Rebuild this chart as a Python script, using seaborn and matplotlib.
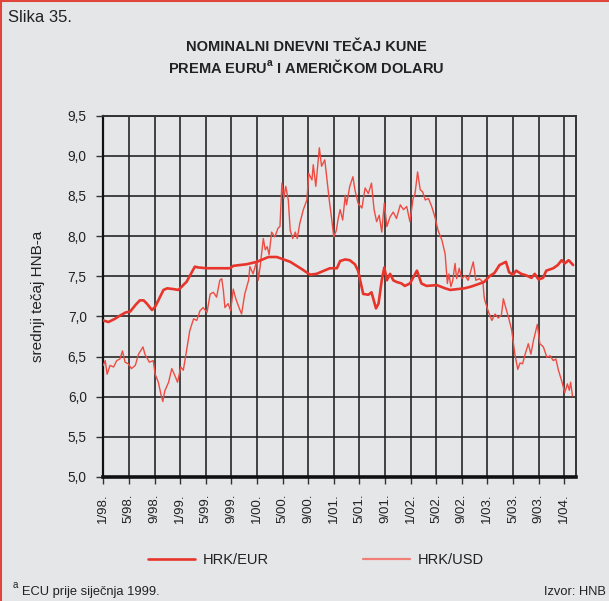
import matplotlib
matplotlib.use("Agg")
import matplotlib.pyplot as plt
from matplotlib.lines import Line2D
import seaborn as sns

# months since 1/98 and daily-rate readings
eur_month = [0, 0.8, 1.8, 2.6, 3.5, 4.2, 5.0, 5.7, 6.3, 6.8, 7.6, 8.1, 8.6, 9.4, 10.0,
             11.0, 11.7, 12.0, 12.6, 13.0, 14.3, 14.8, 16.2, 18.2, 19.8, 20.3, 22.4,
             24.0, 25.8, 27.1, 29.2, 31.0, 32.3, 33.3, 35.4, 36.5, 37.0, 37.8, 38.5,
             39.3, 39.8, 40.6, 41.4, 41.9, 42.6, 43.0, 43.5, 43.9, 44.3, 44.8, 45.3,
             45.8, 46.6, 47.1, 47.9, 49.0, 49.7, 50.5, 52.1, 53.4, 54.2, 55.3, 56.4,
             57.4, 58.5, 59.5, 60.3, 61.1, 61.9, 62.9, 63.4, 64.0, 64.5, 65.3, 66.1,
             66.9, 67.4, 68.0, 68.7, 69.2, 70.3, 71.0, 71.6, 72.1, 72.7, 73.4]
eur_rate = [6.95, 6.93, 6.97, 7.01, 7.05, 7.06, 7.14, 7.20, 7.20, 7.16, 7.08, 7.12, 7.20,
            7.33, 7.35, 7.34, 7.33, 7.35, 7.40, 7.43, 7.62, 7.61, 7.60, 7.60, 7.60, 7.63,
            7.65, 7.68, 7.74, 7.74, 7.68, 7.59, 7.52, 7.53, 7.60, 7.60, 7.69, 7.71, 7.70,
            7.65, 7.57, 7.28, 7.27, 7.30, 7.10, 7.16, 7.45, 7.61, 7.45, 7.53, 7.45, 7.43,
            7.41, 7.38, 7.41, 7.57, 7.41, 7.38, 7.39, 7.35, 7.33, 7.34, 7.35, 7.37, 7.40,
            7.43, 7.50, 7.54, 7.64, 7.68, 7.55, 7.52, 7.57, 7.53, 7.51, 7.48, 7.53, 7.46,
            7.48, 7.57, 7.60, 7.64, 7.70, 7.66, 7.70, 7.64]

usd_month = [0, 0.3, 0.6, 1.05, 1.6, 2.1, 2.6, 3.0, 3.4, 3.9, 4.4, 5.0, 5.5, 6.2, 6.5,
             7.2, 7.8, 8.1, 8.6, 9.0, 9.3, 9.6, 10.2, 10.7, 11.2, 11.6, 12.1, 12.5, 13.0,
             13.5, 14.1, 14.6, 15.1, 15.6, 16.2, 16.7, 17.2, 17.7, 18.2, 18.5, 18.75,
             19.0, 19.5, 19.9, 20.3, 20.7, 21.25, 21.6, 22.1, 22.7, 22.9, 23.4, 24.0,
             24.2, 24.5, 25.0, 25.3, 25.6, 25.9, 26.3, 26.8, 27.3, 27.6, 27.9, 28.2,
             28.5, 28.9, 29.2, 29.6, 30.0, 30.3, 30.7, 31.25, 31.8, 32.1, 32.6, 32.8,
             33.2, 33.75, 34.1, 34.6, 35.0, 35.3, 35.7, 36.0, 36.4, 36.7, 37.0, 37.4,
             37.8, 38.0, 38.5, 39.0, 39.3, 39.8, 40.4, 40.9, 41.4, 41.9, 42.3, 42.7,
             43.1, 43.5, 43.9, 44.3, 44.8, 45.3, 45.8, 46.4, 46.9, 47.4, 47.9, 48.4,
             48.7, 49.1, 49.5, 49.9, 50.3, 50.8, 51.3, 51.8, 52.3, 52.9, 53.4, 53.75,
             54.0, 54.3, 54.6, 54.95, 55.2, 55.6, 56.0, 56.5, 57.0, 57.6, 57.8, 58.2,
             58.75, 59.3, 59.5, 59.6, 60.2, 60.7, 61.2, 61.7, 62.2, 62.5, 62.9, 63.3,
             63.8, 64.3, 64.75, 65.1, 65.5, 65.9, 66.4, 66.8, 67.2, 67.8, 68.2, 68.75,
             69.3, 69.8, 70.3, 70.7, 71.1, 71.6, 72.1, 72.5, 72.8, 73.0, 73.3]
usd_rate = [6.39, 6.45, 6.28, 6.39, 6.37, 6.45, 6.47, 6.57, 6.43, 6.41, 6.35, 6.39, 6.53,
            6.62, 6.53, 6.43, 6.45, 6.28, 6.18, 6.03, 5.94, 6.07, 6.18, 6.35, 6.26, 6.18,
            6.37, 6.33, 6.57, 6.82, 6.97, 6.95, 7.07, 7.11, 7.05, 7.28, 7.30, 7.24, 7.45,
            7.47, 7.33, 7.11, 7.16, 7.07, 7.34, 7.22, 7.10, 7.03, 7.28, 7.45, 7.62, 7.53,
            7.70, 7.45, 7.62, 7.97, 7.83, 7.87, 7.77, 8.05, 7.99, 8.10, 8.12, 8.66, 8.47,
            8.62, 8.45, 8.07, 7.97, 8.05, 7.97, 8.16, 8.33, 8.45, 8.78, 8.70, 8.89, 8.62,
            9.10, 8.87, 8.95, 8.66, 8.45, 8.20, 7.99, 8.07, 8.22, 8.33, 8.20, 8.51, 8.39,
            8.62, 8.74, 8.58, 8.41, 8.35, 8.60, 8.53, 8.66, 8.33, 8.18, 8.26, 8.05, 8.41,
            8.12, 8.24, 8.30, 8.22, 8.39, 8.33, 8.37, 8.18, 8.47, 8.53, 8.80, 8.58, 8.55,
            8.45, 8.47, 8.37, 8.24, 8.07, 7.95, 7.78, 7.41, 7.53, 7.37, 7.45, 7.66, 7.47,
            7.60, 7.47, 7.51, 7.45, 7.62, 7.68, 7.45, 7.47, 7.43, 7.24, 7.20, 7.05, 6.95,
            7.03, 6.98, 7.02, 7.22, 7.10, 6.99, 6.83, 6.53, 6.34, 6.42, 6.41, 6.53, 6.66,
            6.53, 6.70, 6.90, 6.66, 6.62, 6.49, 6.51, 6.45, 6.47, 6.33, 6.20, 6.05, 6.16,
            6.08, 6.18, 6.01]

x_ticks = list(range(0, 73, 4))
x_labels = ["1/98.", "5/98.", "9/98.", "1/99.", "5/99.", "9/99.", "1/00.", "5/00.",
            "9/00.", "1/01.", "5/01.", "9/01.", "1/02.", "5/02.", "9/02.", "1/03.",
            "5/03.", "9/03.", "1/04."]
y_ticks = [5.0, 5.5, 6.0, 6.5, 7.0, 7.5, 8.0, 8.5, 9.0, 9.5]
y_labels = ["5,0", "5,5", "6,0", "6,5", "7,0", "7,5", "8,0", "8,5", "9,0", "9,5"]

bg = "#e5e6e8"
eur_color = "#e8352c"
usd_color = "#ee4c42"
grid_color = "#222222"

sns.set_theme(style="ticks")
plt.rcParams["font.family"] = ["Liberation Sans", "DejaVu Sans"]

W, H = 609, 601
fig = plt.figure(figsize=(W / 100, H / 100), dpi=100, facecolor=bg)
ax = fig.add_axes([103.3 / W, 1 - 477 / H, (575.7 - 103.3) / W, (477 - 115.7) / H])
ax.set_facecolor(bg)

sns.lineplot(x=usd_month, y=usd_rate, ax=ax, color=usd_color, lw=1.0,
             sort=False, estimator=None, label="HRK/USD", zorder=3)
sns.lineplot(x=eur_month, y=eur_rate, ax=ax, color=eur_color, lw=1.9,
             sort=False, estimator=None, label="HRK/EUR", zorder=4)

ax.set_xlim(0, 73.8)
ax.set_ylim(5.0, 9.5)
ax.set_xticks(x_ticks)
ax.set_xticklabels(x_labels, rotation=90, fontsize=9.5, color="#222222")
ax.set_yticks(y_ticks)
ax.set_yticklabels(y_labels, fontsize=9.8, color="#222222")
ax.tick_params(axis="y", length=5, width=1, color="#333333", pad=7)
ax.tick_params(axis="x", length=5, width=1, color="#333333", pad=7)
ax.set_xlabel("")
ax.set_ylabel("srednji tečaj HNB-a", fontsize=11, color="#222222", labelpad=16)

ax.grid(True, color=grid_color, lw=1.3, alpha=0.9)
ax.set_axisbelow(True)
for side in ["top", "right"]:
    ax.spines[side].set_color("#333333")
    ax.spines[side].set_linewidth(1.4)
ax.spines["left"].set_color("#111111")
ax.spines["left"].set_linewidth(1.6)
ax.spines["bottom"].set_color("#111111")
ax.spines["bottom"].set_linewidth(2.6)

# legend below the plot, EUR first
handles, labels = ax.get_legend_handles_labels()
ax.get_legend().remove()
leg_handles = [Line2D([], [], color=eur_color, lw=1.9),
               Line2D([], [], color="#f07f78", lw=1.6)]
fig.legend(leg_handles, ["HRK/EUR", "HRK/USD"], loc="center left",
           bbox_to_anchor=(141 / W, 1 - 560 / H), ncol=2, frameon=False,
           fontsize=10.5, handlelength=3.2, handletextpad=0.55,
           columnspacing=6.45, borderpad=0, labelcolor="#222222")

# titles and notes
fig.text(8 / W, 1 - 18 / H, "Slika 35.", fontsize=12, color="#222222", va="center")
fig.text(0.503, 1 - 47 / H, "NOMINALNI DNEVNI TEČAJ KUNE", fontsize=10.5,
         fontweight="bold", ha="center", va="center", color="#222222")
fig.text(0.503, 1 - 67 / H, "PREMA EURU$^{\\mathregular{a}}$ I AMERIČKOM DOLARU",
         fontsize=10.5, fontweight="bold", ha="center", va="center", color="#222222")
fig.text(13 / W, 1 - 585 / H, "a", fontsize=7, color="#222222", va="center")
fig.text(22 / W, 1 - 592 / H, "ECU prije siječnja 1999.", fontsize=9.3,
         color="#222222", va="center")
fig.text(606 / W, 1 - 592 / H, "Izvor: HNB", fontsize=9.3, color="#222222",
         va="center", ha="right")

# red frame on the left and top edges
fig.add_artist(Line2D([0.5 / W, 0.5 / W], [0, 1], transform=fig.transFigure,
                      color="#e0453c", lw=1.5))
fig.add_artist(Line2D([0, 1], [1 - 0.5 / H, 1 - 0.5 / H], transform=fig.transFigure,
                      color="#e0453c", lw=1.5))

fig.savefig("out.png", dpi=100, facecolor=bg)
